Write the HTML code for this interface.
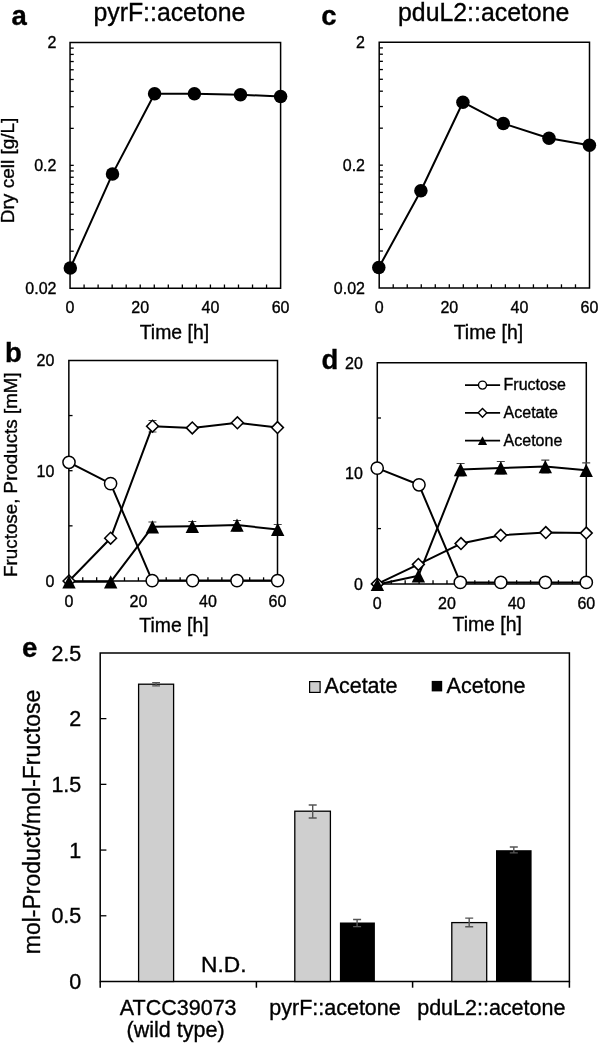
<!DOCTYPE html>
<html><head><meta charset="utf-8"><style>
html,body{margin:0;padding:0;background:#fff;width:598px;height:1043px;overflow:hidden;}
svg{display:block;will-change:transform;}
text{font-family:"Liberation Sans", sans-serif;fill:#000;stroke:#000;stroke-width:0.35px;}
</style></head><body>
<svg width="598" height="1043" viewBox="0 0 598 1043">
<rect width="598" height="1043" fill="#fff"/>
<text x="11.50" y="24.90" font-size="27.5" text-anchor="start" font-weight="bold" >a</text>
<text x="93.40" y="20.80" font-size="24.85" text-anchor="start" font-weight="normal" >pyrF::acetone</text>
<line x1="70.05" y1="251.22" x2="73.75" y2="251.22" stroke="#000" stroke-width="1.3"/>
<line x1="70.05" y1="229.59" x2="73.75" y2="229.59" stroke="#000" stroke-width="1.3"/>
<line x1="70.05" y1="214.24" x2="73.75" y2="214.24" stroke="#000" stroke-width="1.3"/>
<line x1="70.05" y1="202.33" x2="73.75" y2="202.33" stroke="#000" stroke-width="1.3"/>
<line x1="70.05" y1="192.60" x2="73.75" y2="192.60" stroke="#000" stroke-width="1.3"/>
<line x1="70.05" y1="184.38" x2="73.75" y2="184.38" stroke="#000" stroke-width="1.3"/>
<line x1="70.05" y1="177.26" x2="73.75" y2="177.26" stroke="#000" stroke-width="1.3"/>
<line x1="70.05" y1="170.97" x2="73.75" y2="170.97" stroke="#000" stroke-width="1.3"/>
<line x1="70.05" y1="165.35" x2="73.75" y2="165.35" stroke="#000" stroke-width="1.3"/>
<line x1="70.05" y1="128.37" x2="73.75" y2="128.37" stroke="#000" stroke-width="1.3"/>
<line x1="70.05" y1="106.74" x2="73.75" y2="106.74" stroke="#000" stroke-width="1.3"/>
<line x1="70.05" y1="91.39" x2="73.75" y2="91.39" stroke="#000" stroke-width="1.3"/>
<line x1="70.05" y1="79.48" x2="73.75" y2="79.48" stroke="#000" stroke-width="1.3"/>
<line x1="70.05" y1="69.75" x2="73.75" y2="69.75" stroke="#000" stroke-width="1.3"/>
<line x1="70.05" y1="61.53" x2="73.75" y2="61.53" stroke="#000" stroke-width="1.3"/>
<line x1="70.05" y1="54.41" x2="73.75" y2="54.41" stroke="#000" stroke-width="1.3"/>
<line x1="70.05" y1="48.12" x2="73.75" y2="48.12" stroke="#000" stroke-width="1.3"/>
<line x1="84.09" y1="288.20" x2="84.09" y2="284.50" stroke="#000" stroke-width="1.3"/>
<line x1="98.12" y1="288.20" x2="98.12" y2="284.50" stroke="#000" stroke-width="1.3"/>
<line x1="112.16" y1="288.20" x2="112.16" y2="284.50" stroke="#000" stroke-width="1.3"/>
<line x1="126.20" y1="288.20" x2="126.20" y2="284.50" stroke="#000" stroke-width="1.3"/>
<line x1="140.23" y1="288.20" x2="140.23" y2="284.50" stroke="#000" stroke-width="1.3"/>
<line x1="154.27" y1="288.20" x2="154.27" y2="284.50" stroke="#000" stroke-width="1.3"/>
<line x1="168.31" y1="288.20" x2="168.31" y2="284.50" stroke="#000" stroke-width="1.3"/>
<line x1="182.34" y1="288.20" x2="182.34" y2="284.50" stroke="#000" stroke-width="1.3"/>
<line x1="196.38" y1="288.20" x2="196.38" y2="284.50" stroke="#000" stroke-width="1.3"/>
<line x1="210.42" y1="288.20" x2="210.42" y2="284.50" stroke="#000" stroke-width="1.3"/>
<line x1="224.45" y1="288.20" x2="224.45" y2="284.50" stroke="#000" stroke-width="1.3"/>
<line x1="238.49" y1="288.20" x2="238.49" y2="284.50" stroke="#000" stroke-width="1.3"/>
<line x1="252.53" y1="288.20" x2="252.53" y2="284.50" stroke="#000" stroke-width="1.3"/>
<line x1="266.56" y1="288.20" x2="266.56" y2="284.50" stroke="#000" stroke-width="1.3"/>
<path d="M70.05,42.50H280.60V288.20H70.05Z" fill="none" stroke="#000" stroke-width="1.5"/>
<text x="56.45" y="48.30" font-size="16" text-anchor="end" font-weight="normal" >2</text>
<text x="56.45" y="171.15" font-size="16" text-anchor="end" font-weight="normal" >0.2</text>
<text x="56.45" y="294.00" font-size="16" text-anchor="end" font-weight="normal" >0.02</text>
<text x="70.05" y="312.50" font-size="16" text-anchor="middle" font-weight="normal" >0</text>
<text x="140.23" y="312.50" font-size="16" text-anchor="middle" font-weight="normal" >20</text>
<text x="210.42" y="312.50" font-size="16" text-anchor="middle" font-weight="normal" >40</text>
<text x="280.60" y="312.50" font-size="16" text-anchor="middle" font-weight="normal" >60</text>
<text x="174.40" y="338.80" font-size="19.4" text-anchor="middle" font-weight="normal" >Time [h]</text>
<text x="0.00" y="0.00" font-size="19" text-anchor="middle" font-weight="normal" transform="translate(13.50,170.40) rotate(-90)">Dry cell [g/L]</text>
<polyline points="70.30,268.10 112.50,173.90 154.60,93.80 194.40,93.80 240.50,94.80 280.60,96.50" fill="none" stroke="#000" stroke-width="2.0" stroke-linejoin="round"/>
<circle cx="70.30" cy="268.10" r="6.75" fill="#000"/>
<circle cx="112.50" cy="173.90" r="6.75" fill="#000"/>
<circle cx="154.60" cy="93.80" r="6.75" fill="#000"/>
<circle cx="194.40" cy="93.80" r="6.75" fill="#000"/>
<circle cx="240.50" cy="94.80" r="6.75" fill="#000"/>
<circle cx="280.60" cy="96.50" r="6.75" fill="#000"/>
<text x="321.30" y="24.90" font-size="27.5" text-anchor="start" font-weight="bold" >c</text>
<text x="398.00" y="20.80" font-size="24.85" text-anchor="start" font-weight="normal" >pduL2::acetone</text>
<line x1="379.20" y1="251.02" x2="382.90" y2="251.02" stroke="#000" stroke-width="1.3"/>
<line x1="379.20" y1="229.39" x2="382.90" y2="229.39" stroke="#000" stroke-width="1.3"/>
<line x1="379.20" y1="214.04" x2="382.90" y2="214.04" stroke="#000" stroke-width="1.3"/>
<line x1="379.20" y1="202.13" x2="382.90" y2="202.13" stroke="#000" stroke-width="1.3"/>
<line x1="379.20" y1="192.40" x2="382.90" y2="192.40" stroke="#000" stroke-width="1.3"/>
<line x1="379.20" y1="184.18" x2="382.90" y2="184.18" stroke="#000" stroke-width="1.3"/>
<line x1="379.20" y1="177.06" x2="382.90" y2="177.06" stroke="#000" stroke-width="1.3"/>
<line x1="379.20" y1="170.77" x2="382.90" y2="170.77" stroke="#000" stroke-width="1.3"/>
<line x1="379.20" y1="165.15" x2="382.90" y2="165.15" stroke="#000" stroke-width="1.3"/>
<line x1="379.20" y1="128.17" x2="382.90" y2="128.17" stroke="#000" stroke-width="1.3"/>
<line x1="379.20" y1="106.54" x2="382.90" y2="106.54" stroke="#000" stroke-width="1.3"/>
<line x1="379.20" y1="91.19" x2="382.90" y2="91.19" stroke="#000" stroke-width="1.3"/>
<line x1="379.20" y1="79.28" x2="382.90" y2="79.28" stroke="#000" stroke-width="1.3"/>
<line x1="379.20" y1="69.55" x2="382.90" y2="69.55" stroke="#000" stroke-width="1.3"/>
<line x1="379.20" y1="61.33" x2="382.90" y2="61.33" stroke="#000" stroke-width="1.3"/>
<line x1="379.20" y1="54.21" x2="382.90" y2="54.21" stroke="#000" stroke-width="1.3"/>
<line x1="379.20" y1="47.92" x2="382.90" y2="47.92" stroke="#000" stroke-width="1.3"/>
<line x1="393.22" y1="288.00" x2="393.22" y2="284.30" stroke="#000" stroke-width="1.3"/>
<line x1="407.24" y1="288.00" x2="407.24" y2="284.30" stroke="#000" stroke-width="1.3"/>
<line x1="421.26" y1="288.00" x2="421.26" y2="284.30" stroke="#000" stroke-width="1.3"/>
<line x1="435.28" y1="288.00" x2="435.28" y2="284.30" stroke="#000" stroke-width="1.3"/>
<line x1="449.30" y1="288.00" x2="449.30" y2="284.30" stroke="#000" stroke-width="1.3"/>
<line x1="463.32" y1="288.00" x2="463.32" y2="284.30" stroke="#000" stroke-width="1.3"/>
<line x1="477.34" y1="288.00" x2="477.34" y2="284.30" stroke="#000" stroke-width="1.3"/>
<line x1="491.36" y1="288.00" x2="491.36" y2="284.30" stroke="#000" stroke-width="1.3"/>
<line x1="505.38" y1="288.00" x2="505.38" y2="284.30" stroke="#000" stroke-width="1.3"/>
<line x1="519.40" y1="288.00" x2="519.40" y2="284.30" stroke="#000" stroke-width="1.3"/>
<line x1="533.42" y1="288.00" x2="533.42" y2="284.30" stroke="#000" stroke-width="1.3"/>
<line x1="547.44" y1="288.00" x2="547.44" y2="284.30" stroke="#000" stroke-width="1.3"/>
<line x1="561.46" y1="288.00" x2="561.46" y2="284.30" stroke="#000" stroke-width="1.3"/>
<line x1="575.48" y1="288.00" x2="575.48" y2="284.30" stroke="#000" stroke-width="1.3"/>
<path d="M379.20,42.30H589.50V288.00H379.20Z" fill="none" stroke="#000" stroke-width="1.5"/>
<text x="365.00" y="48.10" font-size="16" text-anchor="end" font-weight="normal" >2</text>
<text x="365.00" y="170.95" font-size="16" text-anchor="end" font-weight="normal" >0.2</text>
<text x="365.00" y="293.80" font-size="16" text-anchor="end" font-weight="normal" >0.02</text>
<text x="379.20" y="312.50" font-size="16" text-anchor="middle" font-weight="normal" >0</text>
<text x="449.30" y="312.50" font-size="16" text-anchor="middle" font-weight="normal" >20</text>
<text x="519.40" y="312.50" font-size="16" text-anchor="middle" font-weight="normal" >40</text>
<text x="589.50" y="312.50" font-size="16" text-anchor="middle" font-weight="normal" >60</text>
<text x="488.40" y="338.80" font-size="19.4" text-anchor="middle" font-weight="normal" >Time [h]</text>
<polyline points="378.80,267.60 420.90,190.80 462.90,102.20 503.30,123.40 549.00,138.30 589.40,145.20" fill="none" stroke="#000" stroke-width="2.0" stroke-linejoin="round"/>
<circle cx="378.80" cy="267.60" r="6.75" fill="#000"/>
<circle cx="420.90" cy="190.80" r="6.75" fill="#000"/>
<circle cx="462.90" cy="102.20" r="6.75" fill="#000"/>
<circle cx="503.30" cy="123.40" r="6.75" fill="#000"/>
<circle cx="549.00" cy="138.30" r="6.75" fill="#000"/>
<circle cx="589.40" cy="145.20" r="6.75" fill="#000"/>
<text x="5.00" y="361.50" font-size="27.5" text-anchor="start" font-weight="bold" >b</text>
<line x1="68.85" y1="525.85" x2="72.55" y2="525.85" stroke="#000" stroke-width="1.3"/>
<line x1="68.85" y1="470.70" x2="72.55" y2="470.70" stroke="#000" stroke-width="1.3"/>
<line x1="68.85" y1="415.55" x2="72.55" y2="415.55" stroke="#000" stroke-width="1.3"/>
<line x1="82.76" y1="581.00" x2="82.76" y2="577.30" stroke="#000" stroke-width="1.3"/>
<line x1="96.67" y1="581.00" x2="96.67" y2="577.30" stroke="#000" stroke-width="1.3"/>
<line x1="110.58" y1="581.00" x2="110.58" y2="577.30" stroke="#000" stroke-width="1.3"/>
<line x1="124.49" y1="581.00" x2="124.49" y2="577.30" stroke="#000" stroke-width="1.3"/>
<line x1="138.40" y1="581.00" x2="138.40" y2="577.30" stroke="#000" stroke-width="1.3"/>
<line x1="152.31" y1="581.00" x2="152.31" y2="577.30" stroke="#000" stroke-width="1.3"/>
<line x1="166.22" y1="581.00" x2="166.22" y2="577.30" stroke="#000" stroke-width="1.3"/>
<line x1="180.13" y1="581.00" x2="180.13" y2="577.30" stroke="#000" stroke-width="1.3"/>
<line x1="194.04" y1="581.00" x2="194.04" y2="577.30" stroke="#000" stroke-width="1.3"/>
<line x1="207.95" y1="581.00" x2="207.95" y2="577.30" stroke="#000" stroke-width="1.3"/>
<line x1="221.86" y1="581.00" x2="221.86" y2="577.30" stroke="#000" stroke-width="1.3"/>
<line x1="235.77" y1="581.00" x2="235.77" y2="577.30" stroke="#000" stroke-width="1.3"/>
<line x1="249.68" y1="581.00" x2="249.68" y2="577.30" stroke="#000" stroke-width="1.3"/>
<line x1="263.59" y1="581.00" x2="263.59" y2="577.30" stroke="#000" stroke-width="1.3"/>
<path d="M68.85,360.40H277.50V581.00H68.85Z" fill="none" stroke="#000" stroke-width="1.5"/>
<text x="54.35" y="366.20" font-size="16" text-anchor="end" font-weight="normal" >20</text>
<text x="54.35" y="476.50" font-size="16" text-anchor="end" font-weight="normal" >10</text>
<text x="54.35" y="586.80" font-size="16" text-anchor="end" font-weight="normal" >0</text>
<text x="68.85" y="606.50" font-size="16" text-anchor="middle" font-weight="normal" >0</text>
<text x="138.40" y="606.50" font-size="16" text-anchor="middle" font-weight="normal" >20</text>
<text x="207.95" y="606.50" font-size="16" text-anchor="middle" font-weight="normal" >40</text>
<text x="277.50" y="606.50" font-size="16" text-anchor="middle" font-weight="normal" >60</text>
<text x="174.00" y="632.30" font-size="19.4" text-anchor="middle" font-weight="normal" >Time [h]</text>
<text x="0.00" y="0.00" font-size="18.8" text-anchor="middle" font-weight="normal" transform="translate(17.40,474.60) rotate(-90)">Fructose, Products [mM]</text>
<path d="M152.40,522.00V531.60M148.40,522.00H156.40M148.40,531.60H156.40" stroke="#444" stroke-width="1.2" fill="none"/>
<path d="M192.30,521.50V532.00M188.30,521.50H196.30M188.30,532.00H196.30" stroke="#444" stroke-width="1.2" fill="none"/>
<path d="M237.00,520.50V531.00M233.00,520.50H241.00M233.00,531.00H241.00" stroke="#444" stroke-width="1.2" fill="none"/>
<path d="M277.70,524.50V535.50M273.70,524.50H281.70M273.70,535.50H281.70" stroke="#444" stroke-width="1.2" fill="none"/>
<path d="M152.50,420.50V432.00M148.50,420.50H156.50M148.50,432.00H156.50" stroke="#444" stroke-width="1.2" fill="none"/>
<polyline points="69.00,462.30 110.60,483.60 152.20,580.60 192.60,580.60 237.00,580.60 277.60,580.60" fill="none" stroke="#000" stroke-width="2.0" stroke-linejoin="round"/>
<polyline points="69.00,581.00 110.60,538.20 152.50,426.20 192.30,427.90 237.40,422.80 277.50,427.60" fill="none" stroke="#000" stroke-width="2.0" stroke-linejoin="round"/>
<polyline points="69.00,581.80 110.70,581.80 152.40,526.80 192.30,526.30 237.00,525.10 277.70,529.40" fill="none" stroke="#000" stroke-width="2.0" stroke-linejoin="round"/>
<circle cx="69.00" cy="462.30" r="6.1" fill="#fff" stroke="#000" stroke-width="1.5"/>
<circle cx="110.60" cy="483.60" r="6.1" fill="#fff" stroke="#000" stroke-width="1.5"/>
<circle cx="152.20" cy="580.60" r="6.1" fill="#fff" stroke="#000" stroke-width="1.5"/>
<circle cx="192.60" cy="580.60" r="6.1" fill="#fff" stroke="#000" stroke-width="1.5"/>
<circle cx="237.00" cy="580.60" r="6.1" fill="#fff" stroke="#000" stroke-width="1.5"/>
<circle cx="277.60" cy="580.60" r="6.1" fill="#fff" stroke="#000" stroke-width="1.5"/>
<path d="M63.10,581.00L69.00,575.10L74.90,581.00L69.00,586.90Z" fill="#fff" stroke="#000" stroke-width="1.55" stroke-linejoin="miter"/>
<path d="M104.70,538.20L110.60,532.30L116.50,538.20L110.60,544.10Z" fill="#fff" stroke="#000" stroke-width="1.55" stroke-linejoin="miter"/>
<path d="M146.60,426.20L152.50,420.30L158.40,426.20L152.50,432.10Z" fill="#fff" stroke="#000" stroke-width="1.55" stroke-linejoin="miter"/>
<path d="M186.40,427.90L192.30,422.00L198.20,427.90L192.30,433.80Z" fill="#fff" stroke="#000" stroke-width="1.55" stroke-linejoin="miter"/>
<path d="M231.50,422.80L237.40,416.90L243.30,422.80L237.40,428.70Z" fill="#fff" stroke="#000" stroke-width="1.55" stroke-linejoin="miter"/>
<path d="M271.60,427.60L277.50,421.70L283.40,427.60L277.50,433.50Z" fill="#fff" stroke="#000" stroke-width="1.55" stroke-linejoin="miter"/>
<path d="M69.00,575.20L75.70,588.40L62.30,588.40Z" fill="#000"/>
<path d="M110.70,575.20L117.40,588.40L104.00,588.40Z" fill="#000"/>
<path d="M152.40,520.20L159.10,533.40L145.70,533.40Z" fill="#000"/>
<path d="M192.30,519.70L199.00,532.90L185.60,532.90Z" fill="#000"/>
<path d="M237.00,518.50L243.70,531.70L230.30,531.70Z" fill="#000"/>
<path d="M277.70,522.80L284.40,536.00L271.00,536.00Z" fill="#000"/>
<text x="321.50" y="369.40" font-size="27.5" text-anchor="start" font-weight="bold" >d</text>
<line x1="377.30" y1="528.60" x2="381.00" y2="528.60" stroke="#000" stroke-width="1.3"/>
<line x1="377.30" y1="473.30" x2="381.00" y2="473.30" stroke="#000" stroke-width="1.3"/>
<line x1="377.30" y1="418.00" x2="381.00" y2="418.00" stroke="#000" stroke-width="1.3"/>
<line x1="391.23" y1="583.90" x2="391.23" y2="580.20" stroke="#000" stroke-width="1.3"/>
<line x1="405.17" y1="583.90" x2="405.17" y2="580.20" stroke="#000" stroke-width="1.3"/>
<line x1="419.10" y1="583.90" x2="419.10" y2="580.20" stroke="#000" stroke-width="1.3"/>
<line x1="433.03" y1="583.90" x2="433.03" y2="580.20" stroke="#000" stroke-width="1.3"/>
<line x1="446.97" y1="583.90" x2="446.97" y2="580.20" stroke="#000" stroke-width="1.3"/>
<line x1="460.90" y1="583.90" x2="460.90" y2="580.20" stroke="#000" stroke-width="1.3"/>
<line x1="474.83" y1="583.90" x2="474.83" y2="580.20" stroke="#000" stroke-width="1.3"/>
<line x1="488.77" y1="583.90" x2="488.77" y2="580.20" stroke="#000" stroke-width="1.3"/>
<line x1="502.70" y1="583.90" x2="502.70" y2="580.20" stroke="#000" stroke-width="1.3"/>
<line x1="516.63" y1="583.90" x2="516.63" y2="580.20" stroke="#000" stroke-width="1.3"/>
<line x1="530.57" y1="583.90" x2="530.57" y2="580.20" stroke="#000" stroke-width="1.3"/>
<line x1="544.50" y1="583.90" x2="544.50" y2="580.20" stroke="#000" stroke-width="1.3"/>
<line x1="558.43" y1="583.90" x2="558.43" y2="580.20" stroke="#000" stroke-width="1.3"/>
<line x1="572.37" y1="583.90" x2="572.37" y2="580.20" stroke="#000" stroke-width="1.3"/>
<path d="M377.30,362.70H586.30V583.90H377.30Z" fill="none" stroke="#000" stroke-width="1.5"/>
<text x="362.80" y="368.50" font-size="16" text-anchor="end" font-weight="normal" >20</text>
<text x="362.80" y="479.10" font-size="16" text-anchor="end" font-weight="normal" >10</text>
<text x="362.80" y="589.70" font-size="16" text-anchor="end" font-weight="normal" >0</text>
<text x="377.30" y="608.60" font-size="16" text-anchor="middle" font-weight="normal" >0</text>
<text x="446.97" y="608.60" font-size="16" text-anchor="middle" font-weight="normal" >20</text>
<text x="516.63" y="608.60" font-size="16" text-anchor="middle" font-weight="normal" >40</text>
<text x="586.30" y="608.60" font-size="16" text-anchor="middle" font-weight="normal" >60</text>
<text x="487.20" y="631.40" font-size="19.4" text-anchor="middle" font-weight="normal" >Time [h]</text>
<path d="M460.60,463.50V476.00M456.60,463.50H464.60M456.60,476.00H464.60" stroke="#444" stroke-width="1.2" fill="none"/>
<path d="M500.80,461.50V474.00M496.80,461.50H504.80M496.80,474.00H504.80" stroke="#444" stroke-width="1.2" fill="none"/>
<path d="M545.30,460.20V473.00M541.30,460.20H549.30M541.30,473.00H549.30" stroke="#444" stroke-width="1.2" fill="none"/>
<path d="M586.20,462.80V476.00M582.20,462.80H590.20M582.20,476.00H590.20" stroke="#444" stroke-width="1.2" fill="none"/>
<polyline points="377.20,468.10 419.00,484.80 460.30,582.40 500.80,582.40 545.40,582.40 586.30,582.40" fill="none" stroke="#000" stroke-width="2.0" stroke-linejoin="round"/>
<polyline points="377.40,583.90 418.40,564.40 461.00,543.60 500.70,535.30 545.80,532.60 586.30,533.10" fill="none" stroke="#000" stroke-width="2.0" stroke-linejoin="round"/>
<polyline points="377.40,584.50 418.40,575.80 460.60,469.60 500.80,467.90 545.30,466.60 586.20,470.30" fill="none" stroke="#000" stroke-width="2.0" stroke-linejoin="round"/>
<circle cx="377.20" cy="468.10" r="6.1" fill="#fff" stroke="#000" stroke-width="1.5"/>
<circle cx="419.00" cy="484.80" r="6.1" fill="#fff" stroke="#000" stroke-width="1.5"/>
<circle cx="460.30" cy="582.40" r="6.1" fill="#fff" stroke="#000" stroke-width="1.5"/>
<circle cx="500.80" cy="582.40" r="6.1" fill="#fff" stroke="#000" stroke-width="1.5"/>
<circle cx="545.40" cy="582.40" r="6.1" fill="#fff" stroke="#000" stroke-width="1.5"/>
<circle cx="586.30" cy="582.40" r="6.1" fill="#fff" stroke="#000" stroke-width="1.5"/>
<path d="M371.50,583.90L377.40,578.00L383.30,583.90L377.40,589.80Z" fill="#fff" stroke="#000" stroke-width="1.55" stroke-linejoin="miter"/>
<path d="M412.50,564.40L418.40,558.50L424.30,564.40L418.40,570.30Z" fill="#fff" stroke="#000" stroke-width="1.55" stroke-linejoin="miter"/>
<path d="M455.10,543.60L461.00,537.70L466.90,543.60L461.00,549.50Z" fill="#fff" stroke="#000" stroke-width="1.55" stroke-linejoin="miter"/>
<path d="M494.80,535.30L500.70,529.40L506.60,535.30L500.70,541.20Z" fill="#fff" stroke="#000" stroke-width="1.55" stroke-linejoin="miter"/>
<path d="M539.90,532.60L545.80,526.70L551.70,532.60L545.80,538.50Z" fill="#fff" stroke="#000" stroke-width="1.55" stroke-linejoin="miter"/>
<path d="M580.40,533.10L586.30,527.20L592.20,533.10L586.30,539.00Z" fill="#fff" stroke="#000" stroke-width="1.55" stroke-linejoin="miter"/>
<path d="M377.40,577.90L384.10,591.10L370.70,591.10Z" fill="#000"/>
<path d="M418.40,569.20L425.10,582.40L411.70,582.40Z" fill="#000"/>
<path d="M460.60,463.00L467.30,476.20L453.90,476.20Z" fill="#000"/>
<path d="M500.80,461.30L507.50,474.50L494.10,474.50Z" fill="#000"/>
<path d="M545.30,460.00L552.00,473.20L538.60,473.20Z" fill="#000"/>
<path d="M586.20,463.70L592.90,476.90L579.50,476.90Z" fill="#000"/>
<line x1="465.00" y1="385.10" x2="500.10" y2="385.10" stroke="#000" stroke-width="1.8"/>
<circle cx="482.50" cy="385.10" r="4.0" fill="#fff" stroke="#000" stroke-width="1.4"/>
<text x="503.60" y="390.30" font-size="16" text-anchor="start" font-weight="normal" >Fructose</text>
<line x1="465.00" y1="412.85" x2="500.10" y2="412.85" stroke="#000" stroke-width="1.8"/>
<path d="M478.20,412.85L482.50,408.55L486.80,412.85L482.50,417.15Z" fill="#fff" stroke="#000" stroke-width="1.4" stroke-linejoin="miter"/>
<text x="503.60" y="418.05" font-size="16" text-anchor="start" font-weight="normal" >Acetate</text>
<line x1="465.00" y1="440.60" x2="500.10" y2="440.60" stroke="#000" stroke-width="1.8"/>
<path d="M482.50,436.20L487.10,445.00L477.90,445.00Z" fill="#000"/>
<text x="503.60" y="445.80" font-size="16" text-anchor="start" font-weight="normal" >Acetone</text>
<text x="22.00" y="657.00" font-size="27.5" text-anchor="start" font-weight="bold" >e</text>
<line x1="100.20" y1="915.78" x2="106.40" y2="915.78" stroke="#000" stroke-width="1.3"/>
<line x1="100.20" y1="850.06" x2="106.40" y2="850.06" stroke="#000" stroke-width="1.3"/>
<line x1="100.20" y1="784.34" x2="106.40" y2="784.34" stroke="#000" stroke-width="1.3"/>
<line x1="100.20" y1="718.62" x2="106.40" y2="718.62" stroke="#000" stroke-width="1.3"/>
<line x1="100.20" y1="981.50" x2="100.20" y2="987.70" stroke="#000" stroke-width="1.5"/>
<line x1="256.40" y1="981.50" x2="256.40" y2="987.70" stroke="#000" stroke-width="1.5"/>
<line x1="412.60" y1="981.50" x2="412.60" y2="987.70" stroke="#000" stroke-width="1.5"/>
<line x1="569.40" y1="981.50" x2="569.40" y2="987.70" stroke="#000" stroke-width="1.5"/>
<path d="M100.20,652.90H569.40V981.50H100.20Z" fill="none" stroke="#000" stroke-width="1.5"/>
<text x="81.30" y="660.50" font-size="21.5" text-anchor="end" font-weight="normal" >2.5</text>
<text x="81.30" y="726.22" font-size="21.5" text-anchor="end" font-weight="normal" >2</text>
<text x="81.30" y="791.94" font-size="21.5" text-anchor="end" font-weight="normal" >1.5</text>
<text x="81.30" y="857.66" font-size="21.5" text-anchor="end" font-weight="normal" >1</text>
<text x="81.30" y="923.38" font-size="21.5" text-anchor="end" font-weight="normal" >0.5</text>
<text x="81.30" y="989.10" font-size="21.5" text-anchor="end" font-weight="normal" >0</text>
<text x="0.00" y="0.00" font-size="23" text-anchor="middle" font-weight="normal" transform="translate(39.9,822.0) rotate(-90)">mol-Product/mol-Fructose</text>
<rect x="138.60" y="684.20" width="35.00" height="297.30" fill="#cfcfcf" stroke="#000" stroke-width="1.3"/>
<rect x="294.80" y="811.20" width="35.60" height="170.30" fill="#cfcfcf" stroke="#000" stroke-width="1.3"/>
<rect x="339.90" y="922.50" width="35.00" height="59.00" fill="#000"/>
<rect x="451.80" y="922.60" width="34.90" height="58.90" fill="#cfcfcf" stroke="#000" stroke-width="1.3"/>
<rect x="496.00" y="850.20" width="35.60" height="131.30" fill="#000"/>
<path d="M156.10,682.60V685.90M152.20,682.60H160.00M152.20,685.90H160.00" stroke="#555" stroke-width="1.4" fill="none"/>
<path d="M312.70,805.00V818.00M308.70,805.00H316.70M308.70,818.00H316.70" stroke="#555" stroke-width="1.4" fill="none"/>
<path d="M357.10,919.50V926.60M353.10,919.50H361.10M353.10,926.60H361.10" stroke="#555" stroke-width="1.4" fill="none"/>
<path d="M469.20,918.10V926.70M465.20,918.10H473.20M465.20,926.70H473.20" stroke="#555" stroke-width="1.4" fill="none"/>
<path d="M513.80,847.00V852.90M509.80,847.00H517.80M509.80,852.90H517.80" stroke="#555" stroke-width="1.4" fill="none"/>
<text x="223.80" y="972.00" font-size="22.5" text-anchor="middle" font-weight="normal" textLength="45.5" lengthAdjust="spacingAndGlyphs">N.D.</text>
<text x="178.20" y="1014.60" font-size="21.5" text-anchor="middle" font-weight="normal" >ATCC39073</text>
<text x="175.60" y="1037.30" font-size="21.5" text-anchor="middle" font-weight="normal" >(wild type)</text>
<text x="335.00" y="1014.60" font-size="21.5" text-anchor="middle" font-weight="normal" >pyrF::acetone</text>
<text x="491.30" y="1014.60" font-size="21.5" text-anchor="middle" font-weight="normal" >pduL2::acetone</text>
<rect x="309.6" y="681.6" width="10.5" height="10.8" fill="#cfcfcf" stroke="#000" stroke-width="1.2"/>
<text x="324.60" y="693.40" font-size="21.5" text-anchor="start" font-weight="normal" >Acetate</text>
<rect x="431.7" y="680.9" width="10.5" height="10.5" fill="#000"/>
<text x="446.60" y="693.40" font-size="21.5" text-anchor="start" font-weight="normal" >Acetone</text>
</svg>
</body></html>
